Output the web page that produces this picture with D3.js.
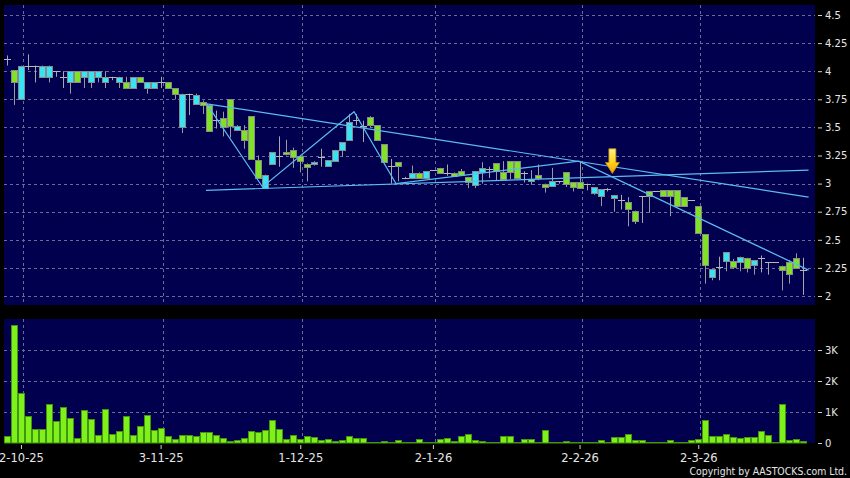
<!DOCTYPE html>
<html><head><meta charset="utf-8">
<script src="https://cdn.jsdelivr.net/npm/d3@7"></script>
<style>body{margin:0;background:#000;} svg{display:block}</style>
</head><body>
<svg id="c" width="850" height="478"></svg>
<script>
// ---- DATA (day index 0..114) ----
const opens = [4.11,4.01,3.75,4.05,4.05,3.95,3.95,4.00,3.95,3.90,
 4.00,3.95,3.90,3.95,3.90,3.95,3.90,3.90,3.85,3.95,
 3.85,3.85,3.90,3.90,3.85,3.50,3.80,3.71,3.73,3.70,
 3.57,3.58,3.75,3.48,3.48,3.60,3.21,2.96,3.17,3.25,
 3.28,3.30,3.25,3.17,3.17,3.24,3.16,3.20,3.30,3.39,
 3.57,3.51,3.59,3.52,3.35,3.16,3.19,3.05,3.05,3.09,
 3.05,3.12,3.14,3.09,3.09,3.11,3.06,2.99,3.10,3.13,
 3.18,3.10,3.20,3.20,3.09,3.02,3.08,3.00,2.98,3.02,
 3.10,3.01,3.01,3.00,2.92,2.89,2.95,2.87,2.85,2.84,
 2.76,2.89,2.93,2.93,2.94,2.94,2.94,2.88,2.85,2.80,
 2.55,2.17,2.26,2.31,2.31,2.30,2.34,2.28,2.34,2.30,
 2.30,2.27,2.30,2.34,2.23];
const highs = [4.14,4.01,4.05,4.15,4.05,4.05,4.05,4.00,4.00,4.00,
 4.00,4.00,4.00,4.00,4.00,3.95,3.95,3.95,3.95,3.95,
 3.90,3.90,3.95,3.90,3.85,3.80,3.80,3.80,3.74,3.70,
 3.65,3.64,3.75,3.52,3.52,3.60,3.25,3.08,3.28,3.42,
 3.39,3.32,3.25,3.18,3.20,3.31,3.21,3.30,3.37,3.62,
 3.62,3.56,3.60,3.52,3.35,3.22,3.19,3.06,3.16,3.10,
 3.11,3.12,3.14,3.17,3.10,3.13,3.06,3.11,3.19,3.15,
 3.18,3.20,3.20,3.20,3.11,3.12,3.17,3.00,3.14,3.02,
 3.10,3.01,3.20,3.00,2.97,2.95,2.96,2.90,2.90,2.88,
 2.76,2.89,2.93,2.93,2.94,2.94,2.94,2.88,2.85,2.80,
 2.55,2.24,2.35,2.39,2.33,2.35,2.34,2.32,2.36,2.30,
 2.30,2.27,2.32,2.38,2.34];
const lows = [4.05,3.70,3.75,4.01,3.90,3.95,3.90,3.95,3.85,3.80,
 3.90,3.85,3.85,3.90,3.85,3.92,3.85,3.85,3.85,3.90,
 3.80,3.85,3.85,3.85,3.75,3.45,3.61,3.71,3.62,3.47,
 3.49,3.42,3.41,3.47,3.31,3.22,3.05,2.96,3.17,3.15,
 3.25,3.14,3.10,3.02,3.16,3.15,3.16,3.20,3.24,3.39,
 3.52,3.37,3.50,3.39,3.19,3.00,3.02,3.04,3.05,3.04,
 3.05,3.12,3.09,3.07,3.06,3.08,2.96,2.96,3.00,3.05,
 3.03,3.03,3.04,3.04,3.01,2.99,3.03,2.92,2.98,3.00,
 2.97,2.93,2.96,2.94,2.90,2.80,2.93,2.75,2.77,2.62,
 2.64,2.65,2.74,2.93,2.88,2.71,2.80,2.80,2.85,2.56,
 2.11,2.14,2.14,2.22,2.24,2.22,2.21,2.19,2.21,2.19,
 2.30,2.05,2.11,2.25,2.01];
const closes = [4.11,3.90,4.05,4.05,4.05,4.05,4.05,4.00,3.95,4.00,
 3.90,4.00,4.00,4.00,3.95,3.95,3.95,3.85,3.95,3.90,
 3.90,3.90,3.90,3.85,3.80,3.80,3.80,3.79,3.70,3.47,
 3.57,3.50,3.51,3.51,3.39,3.22,3.05,3.08,3.28,3.25,
 3.26,3.24,3.20,3.15,3.19,3.24,3.21,3.30,3.37,3.55,
 3.57,3.51,3.52,3.39,3.19,3.16,3.16,3.05,3.09,3.05,
 3.11,3.12,3.09,3.09,3.07,3.08,3.01,3.11,3.14,3.13,
 3.11,3.04,3.10,3.05,3.09,3.04,3.05,2.97,3.02,3.02,
 3.00,2.97,2.96,3.00,2.97,2.95,2.95,2.90,2.85,2.77,
 2.67,2.89,2.89,2.93,2.89,2.89,2.80,2.80,2.85,2.56,
 2.28,2.24,2.26,2.39,2.26,2.35,2.25,2.32,2.34,2.30,
 2.30,2.23,2.20,2.25,2.23];
const volumes = [235,3815,1623,880,450,450,1258,700,1160,805,
 160,1075,785,245,1095,300,387,860,268,548,
 903,430,470,235,130,245,245,235,345,365,
 258,160,75,105,160,387,345,430,740,460,
 117,258,130,235,200,85,130,75,105,235,
 160,160,5,30,75,45,105,20,5,117,
 5,5,117,160,75,225,290,85,75,20,
 40,225,225,30,140,117,25,410,20,30,
 75,25,25,30,30,107,20,195,195,290,
 86,86,30,5,5,97,30,5,86,140,
 750,215,215,300,204,161,204,204,387,258,
 5,1268,86,129,65];
const tickIdx = [2,22,42,61,82,99];
const tickLabels = ["2-10-25","3-11-25","1-12-25","2-1-26","2-2-26","2-3-26"];
const priceTicks = [2,2.25,2.5,2.75,3,3.25,3.5,3.75,4,4.25,4.5];
const volTicks = [0,1000,2000,3000];
const volTickLabels = ["0","1K","2K","3K"];
// trend lines: [day index, price]
const trendA = [[28.6,3.71],[114.8,2.88]];
const trendB = [[28.5,2.94],[114.8,3.12]];
const zigzag = [[28.6,3.71],[36.6,2.97],[49.7,3.64],[55.7,3.00],[81.9,3.20],[114.8,2.23]];
const arrowMark = {idx:86.7, tip:3.09, top:3.31};

// ---- DRAW ----
const svg = d3.select("#c");
const x = d3.scaleLinear().domain([0,114]).range([7,803]);
const yP = d3.scaleLinear().domain([2,4.5]).range([296,15]);
const yV = d3.scaleLinear().domain([0,3000]).range([443,350]);
const P = {l:4, r:815, t:5, b:305};
const V = {l:4, r:815, t:319, b:443};
const FONT = "DejaVu Sans, Verdana, sans-serif";
const gridCol = "#6a6a98";

svg.append("rect").attr("width",850).attr("height",478).attr("fill","#000");
svg.append("rect").attr("x",P.l).attr("y",P.t).attr("width",P.r-P.l).attr("height",P.b-P.t).attr("fill","#00004f");
svg.append("rect").attr("x",V.l).attr("y",V.t).attr("width",V.r-V.l).attr("height",V.b-V.t).attr("fill","#00004f");

const crisp = v => Math.round(v)+0.5;
const grid = svg.append("g").attr("stroke",gridCol).attr("stroke-width",1).attr("stroke-dasharray","3,3");
priceTicks.forEach(p=>{
  grid.append("line").attr("x1",P.l).attr("x2",P.r).attr("y1",crisp(yP(p))).attr("y2",crisp(yP(p)));
});
volTicks.slice(1).forEach(v=>{
  grid.append("line").attr("x1",V.l).attr("x2",V.r).attr("y1",crisp(yV(v))).attr("y2",crisp(yV(v)));
});
tickIdx.forEach(i=>{
  const xx = crisp(x(i)+2);
  grid.append("line").attr("x1",xx).attr("x2",xx).attr("y1",P.t).attr("y2",P.b);
  grid.append("line").attr("x1",xx).attr("x2",xx).attr("y1",V.t).attr("y2",V.b);
});

// candles
const cg = svg.append("g");
opens.forEach((o,i)=>{
  const c = closes[i], h = highs[i], l = lows[i];
  const cx = crisp(x(i));
  if (Math.abs(o-c) < 0.005) {
    cg.append("line").attr("x1",cx).attr("x2",cx).attr("y1",yP(h)).attr("y2",yP(l)).attr("stroke","#a8a8a8");
    cg.append("line").attr("x1",cx-3.5).attr("x2",cx+3.5).attr("y1",crisp(yP(c))).attr("y2",crisp(yP(c))).attr("stroke","#b8b8b8");
  } else {
    cg.append("line").attr("x1",cx).attr("x2",cx).attr("y1",yP(h)).attr("y2",yP(l)).attr("stroke","#9a9a9a");
    const top = Math.round(yP(Math.max(o,c))), bot = Math.round(yP(Math.min(o,c)));
    cg.append("rect").attr("x",cx-3).attr("y",top+0.5).attr("width",6).attr("height",Math.max(1,bot-top))
      .attr("fill", c>o ? "#38e4f4" : "#7fe224").attr("stroke","#8a8a8a").attr("stroke-width",1);
  }
});

// volume bars
const vg = svg.append("g");
volumes.forEach((v,i)=>{
  const cx = Math.round(x(i));
  const top = Math.min(V.b-1, Math.round(yV(v)));
  vg.append("rect").attr("x",cx-2.5).attr("y",top+0.5).attr("width",6).attr("height",Math.max(0.5,V.b-top-0.5))
    .attr("fill","#7ef01c").attr("stroke","#43960c").attr("stroke-width",1);
});

// trend lines
const line = d3.line().x(d=>x(d[0])).y(d=>yP(d[1]));
[trendA,trendB,zigzag].forEach(t=>{
  svg.append("path").attr("d",line(t)).attr("fill","none").attr("stroke","#5cbcf0").attr("stroke-width",1.2);
});

// arrow marker
const defs = svg.append("defs");
const gr = defs.append("linearGradient").attr("id","ag").attr("x1",0).attr("x2",0).attr("y1",0).attr("y2",1);
gr.append("stop").attr("offset","0%").attr("stop-color","#fff38a");
gr.append("stop").attr("offset","55%").attr("stop-color","#ffd21e");
gr.append("stop").attr("offset","100%").attr("stop-color","#f0a000");
const ax = x(arrowMark.idx), aTip = yP(arrowMark.tip), aTop = yP(arrowMark.top);
const headH = 11;
svg.append("path")
  .attr("d",`M${ax-3.5},${aTop} L${ax+3.5},${aTop} L${ax+3.5},${aTip-headH} L${ax+7},${aTip-headH} L${ax},${aTip} L${ax-7},${aTip-headH} L${ax-3.5},${aTip-headH} Z`)
  .attr("fill","url(#ag)").attr("stroke","#c08a10").attr("stroke-width",0.8);

// axes
function styleAxis(g, size){
  g.select(".domain").remove();
  g.selectAll("line").attr("stroke","#d0d0d0");
  g.selectAll("text").attr("fill","#e6e6e6").attr("font-family",FONT).attr("font-size",size);
}
const ay = svg.append("g").attr("transform","translate(818,0)")
  .call(d3.axisRight(yP).tickValues(priceTicks).tickSize(4).tickPadding(3).tickFormat(d=>String(d)));
styleAxis(ay, 10);
const av = svg.append("g").attr("transform","translate(818,0)")
  .call(d3.axisRight(yV).tickValues(volTicks).tickSize(4).tickPadding(3).tickFormat((d,i)=>volTickLabels[i]));
styleAxis(av, 10);
const axb = svg.append("g").attr("transform","translate(0,445)")
  .call(d3.axisBottom(x).tickValues(tickIdx).tickSize(4).tickPadding(4.5).tickFormat((d,i)=>tickLabels[i]));
styleAxis(axb, 11.5);

svg.append("text").attr("x",847).attr("y",474.5).attr("text-anchor","end")
  .attr("font-family","DejaVu Sans Condensed, DejaVu Sans, sans-serif").attr("font-size",10.4)
  .attr("fill","#e6e6e6").text("Copyright by AASTOCKS.com Ltd.");
</script>
</body></html>
